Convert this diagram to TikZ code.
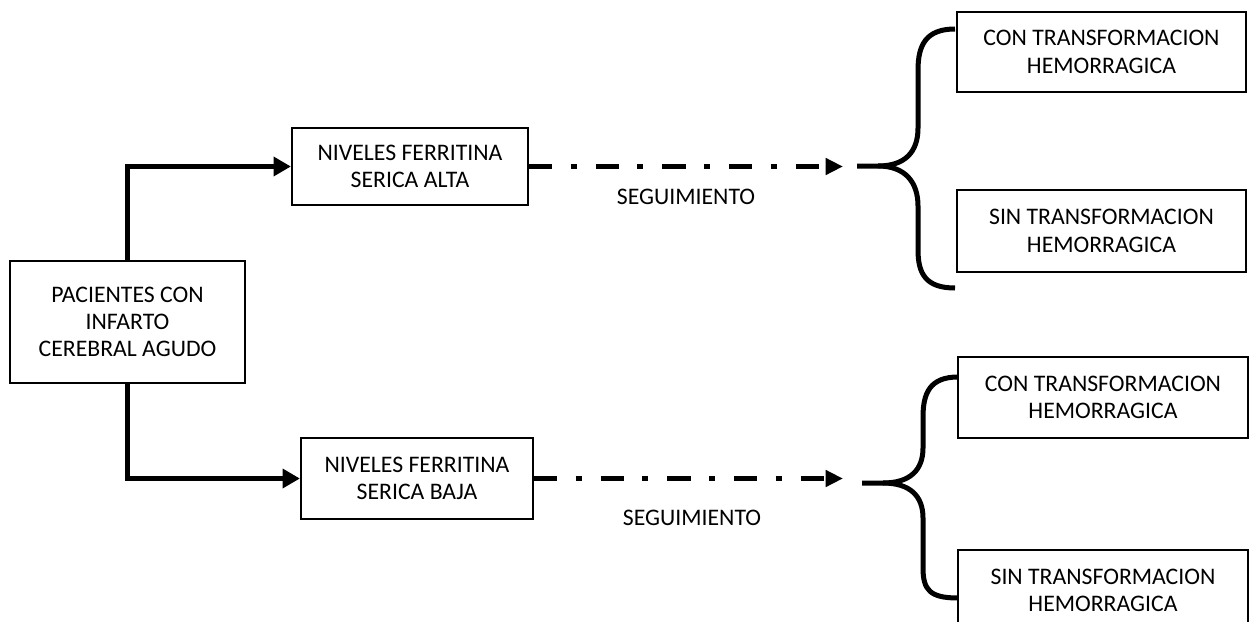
\documentclass[tikz,border=0pt]{standalone}
\usepackage{fontspec}
\setmainfont{Carlito}
\usetikzlibrary{arrows.meta}
\tikzset{
  caja/.style={draw,line width=1.6pt,align=center,inner sep=2pt,font=\fontsize{17.8}{20.5}\selectfont},
  rotulo/.style={font=\fontsize{17.8}{20.5}\selectfont},
  flecha/.style={line width=3.75pt,-{Triangle[length=13pt,width=14pt]}},
  seguir/.style={line width=3.75pt,dash pattern=on 17.5pt off 13.7pt on 4.5pt off 14.3pt,-{Triangle[length=13pt,width=12pt]}},
  llave/.style={line width=3.75pt}
}
\begin{document}
\begin{tikzpicture}[x=0.75pt,y=-0.75pt]
  \useasboundingbox (0,0) rectangle (1255,621);
  % boxes
  \node[caja,minimum width=176pt,minimum height=91.5pt] (pac) at (127.5,322) {PACIENTES CON\\INFARTO\\CEREBRAL AGUDO};
  \node[caja,minimum width=177pt,minimum height=57.75pt] (alta) at (410,166.5) {NIVELES FERRITINA\\SERICA ALTA};
  \node[caja,minimum width=174pt,minimum height=60.75pt] (baja) at (417,478.5) {NIVELES FERRITINA\\SERICA BAJA};
  \node[caja,minimum width=216.75pt,minimum height=60pt] (con1) at (1101.5,52) {CON TRANSFORMACION\\HEMORRAGICA};
  \node[caja,minimum width=216.75pt,minimum height=61.5pt] (sin1) at (1101.5,231) {SIN TRANSFORMACION\\HEMORRAGICA};
  \node[caja,minimum width=217.5pt,minimum height=60.75pt] (con2) at (1103,397.5) {CON TRANSFORMACION\\HEMORRAGICA};
  \node[caja,minimum width=217.5pt,minimum height=60.75pt] (sin2) at (1103,590.5) {SIN TRANSFORMACION\\HEMORRAGICA};
  % branches
  \draw[flecha] (pac.north) |- (alta.west);
  \draw[flecha] (pac.south) |- (baja.west);
  \coordinate (puntaA) at (843,166.5);
  \coordinate (puntaB) at (843,478.5);
  \draw[seguir] (alta.east) -- (puntaA);
  \draw[seguir] (baja.east) -- (puntaB);
  \node[rotulo] (segA) at (686,197) {SEGUIMIENTO};
  \node[rotulo] (segB) at (692,518) {SEGUIMIENTO};
  % braces
  \draw[llave] (955,29) .. controls (926,29) and (918,45) .. (918,70) -- (918,128)
    .. controls (918,152) and (905,166) .. (878,166) -- (857,166);
  \draw[llave] (878,166) .. controls (905,166) and (918,182) .. (918,206) -- (918,250)
    .. controls (918,274) and (926,288) .. (955,288);
  \draw[llave] (958,377) .. controls (930,377) and (923,393) .. (923,417) -- (923,448)
    .. controls (923,470) and (910,483) .. (883,483) -- (862,483);
  \draw[llave] (883,483) .. controls (910,483) and (923,496) .. (923,518) -- (923,568)
    .. controls (923,590) and (930,598) .. (958,598);
\end{tikzpicture}
\end{document}
